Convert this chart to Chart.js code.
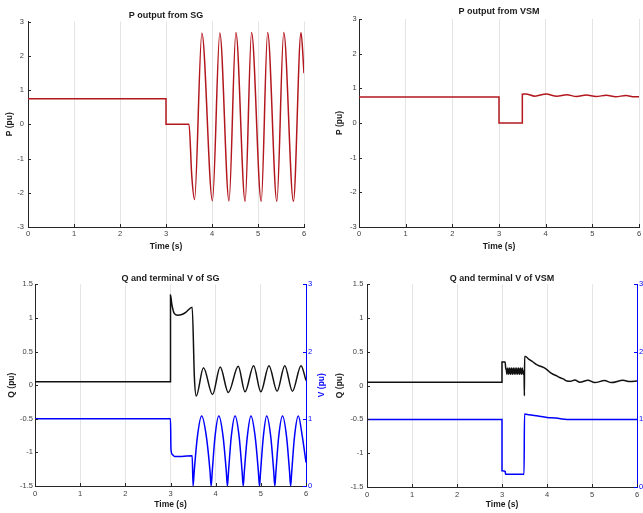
<!DOCTYPE html>
<html>
<head>
<meta charset="utf-8">
<title>SG vs VSM</title>
<script src="https://cdn.jsdelivr.net/npm/chart.js@4.4.1/dist/chart.umd.min.js"></script>
<style>
  html, body { margin: 0; padding: 0; background: #fff; overflow: hidden; }
  #wrap { position: relative; width: 643px; height: 513px; overflow: hidden; }
  canvas { position: absolute; }
</style>
</head>
<body>
<div id="wrap">
  <canvas id="pSG" width="320" height="256" style="left:0px;top:0px"></canvas>
  <canvas id="pVSM" width="340" height="256" style="left:325px;top:0px"></canvas>
  <canvas id="qvSG" width="330" height="257" style="left:0px;top:256px"></canvas>
  <canvas id="qvVSM" width="340" height="257" style="left:330px;top:256px"></canvas>
</div>
<script>
// Marcas de los ejes
const timeTicks = [0, 1, 2, 3, 4, 5, 6];
const pTicks = [-3, -2, -1, 0, 1, 2, 3];
const qTicks = [-1.5, -1, -0.5, 0, 0.5, 1, 1.5];
const vTicks = [0, 1, 2, 3];

// P del generador síncrono (SG): escalón y luego oscilación (picos y valles)
const sgPTime = [0, 3, 3, 3.5, 3.56, 3.62, 3.78, 4.01, 4.17, 4.37, 4.52, 4.72, 4.86, 5.07, 5.21, 5.41, 5.56, 5.77, 5.935, 6];
const sgPValue = [0.75, 0.75, 0, 0, -1.5, -2.2, 2.66, -2.23, 2.67, -2.24, 2.68, -2.25, 2.68, -2.25, 2.68, -2.25, 2.68, -2.25, 2.68, 1.49];

// P de la máquina síncrona virtual (VSM)
const vsmPTime = [0, 3, 3, 3.5, 3.5, 3.57, 3.77, 4.01, 4.24, 4.45, 4.66, 4.87, 5.08, 5.3, 5.5, 5.72, 5.9, 6];
const vsmPValue = [0.75, 0.75, 0, 0, 0.83, 0.84, 0.775, 0.835, 0.77, 0.815, 0.765, 0.805, 0.765, 0.8, 0.76, 0.79, 0.755, 0.755];

// Q del SG
const sgQTime = [0, 3, 3, 3.03, 3.08, 3.15, 3.25, 3.35, 3.48, 3.53, 3.57, 3.73, 3.93, 4.1, 4.28, 4.5, 4.65, 4.84, 5.0, 5.18, 5.36, 5.53, 5.7, 5.89, 6];
const sgQValue = [0.05, 0.05, 1.34, 1.2, 1.07, 1.04, 1.05, 1.09, 1.16, 0.1, -0.16, 0.26, -0.14, 0.27, -0.11, 0.28, -0.1, 0.29, -0.1, 0.29, -0.09, 0.29, -0.09, 0.29, 0.07];

// Tensión en bornes del SG
const sgVTime = [0, 3, 3.01, 3.04, 3.09, 3.25, 3.48, 3.5,
  3.525, 3.595, 3.69, 3.795, 3.875, 3.9,
  3.925, 3.985, 4.07, 4.165, 4.235, 4.26,
  4.285, 4.345, 4.43, 4.52, 4.585, 4.61,
  4.635, 4.7, 4.78, 4.875, 4.945, 4.97,
  4.995, 5.055, 5.13, 5.22, 5.285, 5.31,
  5.335, 5.395, 5.48, 5.57, 5.635, 5.66,
  5.685, 5.745, 5.83, 5.92, 6];
const sgVValue = [1, 1, 0.55, 0.47, 0.44, 0.44, 0.45, 0,
  0.22, 0.73, 1.04, 0.73, 0.22, 0,
  0.22, 0.73, 1.04, 0.73, 0.22, 0,
  0.22, 0.73, 1.04, 0.73, 0.22, 0,
  0.22, 0.73, 1.04, 0.73, 0.22, 0,
  0.22, 0.73, 1.04, 0.73, 0.22, 0,
  0.22, 0.73, 1.04, 0.73, 0.22, 0,
  0.22, 0.73, 1.04, 0.73, 0.35];

// Q de la VSM (con el rizado durante la falta)
const vsmQTime = [0, 3, 3, 3.07, 3.085,
  3.09, 3.11, 3.13, 3.15, 3.17, 3.19, 3.21, 3.23, 3.25, 3.27,
  3.29, 3.31, 3.33, 3.35, 3.37, 3.39, 3.41, 3.43, 3.45, 3.47,
  3.49, 3.497, 3.503, 3.52, 3.6, 3.69, 3.77, 3.84, 3.92, 3.99, 4.1, 4.2, 4.28, 4.36, 4.44,
  4.52, 4.62, 4.73, 4.91, 5.06, 5.28, 5.43, 5.69, 5.84, 6];
const vsmQValue = [0.05, 0.05, 0.35, 0.35, 0.24,
  0.26, 0.17, 0.26, 0.17, 0.26, 0.17, 0.26, 0.17, 0.26, 0.17,
  0.26, 0.17, 0.26, 0.17, 0.26, 0.17, 0.26, 0.17, 0.26, 0.17,
  0.22, -0.15, 0.43, 0.43, 0.39, 0.35, 0.31, 0.29, 0.27, 0.24, 0.18, 0.15, 0.12, 0.1, 0.07,
  0.065, 0.085, 0.05, 0.08, 0.045, 0.075, 0.045, 0.08, 0.06, 0.07];

// Tensión en bornes de la VSM
const vsmVTime = [0, 3, 3, 3.07, 3.08, 3.2, 3.35, 3.49, 3.5, 3.6, 3.8, 4.0, 4.2, 4.45, 5.0, 6];
const vsmVValue = [1, 1, 0.24, 0.23, 0.19, 0.19, 0.19, 0.19, 1.08, 1.07, 1.05, 1.03, 1.02, 1.0, 1.0, 1.0];

const FONT = "'Liberation Sans', Arial, Helvetica, sans-serif";
const AXIS = '#262626';
const RED = '#b3171e';
const BLUE = '#0000ff';

// Marcas hacia dentro y etiqueta del eje derecho leída de abajo a arriba, como en MATLAB
const ejesMatlab = {
  id: 'ejesMatlab',
  afterDraw(chart) {
    const ctx = chart.ctx;
    const area = chart.chartArea;
    Object.values(chart.scales).forEach(scale => {
      ctx.save();
      ctx.strokeStyle = scale.options.border.color;
      ctx.lineWidth = 1;
      ctx.beginPath();
      scale.ticks.forEach(t => {
        const p = Math.round(scale.getPixelForValue(t.value)) + 0.5;
        if (scale.axis === 'x') {
          ctx.moveTo(p, area.bottom); ctx.lineTo(p, area.bottom - 3);
        } else if (scale.position === 'left') {
          ctx.moveTo(area.left, p); ctx.lineTo(area.left + 3, p);
        } else {
          ctx.moveTo(area.right, p); ctx.lineTo(area.right - 3, p);
        }
      });
      ctx.stroke();

      if (scale.axis === 'y' && scale.position === 'right') {
        const tt = scale.options.title;
        ctx.translate(area.right + 15.5, (area.top + area.bottom) / 2);
        ctx.rotate(-Math.PI / 2);
        ctx.fillStyle = scale.options.border.color;
        ctx.font = 'bold 8.5px ' + FONT;
        ctx.textAlign = 'center';
        ctx.textBaseline = 'middle';
        ctx.fillText(tt.text, 0, 0);
      }
      ctx.restore();
    });
  }
};

function toPoints(t, v) {
  return t.map((x, i) => ({ x: x, y: v[i] }));
}

function serie(label, t, v, color, axisId) {
  return {
    label: label,
    data: toPoints(t, v),
    borderColor: color,
    borderWidth: 1.5,
    pointRadius: 0,
    fill: false,
    cubicInterpolationMode: 'monotone',
    yAxisID: axisId || 'y'
  };
}

function xScale(height, tickPad, titlePad) {
  return {
    type: 'linear', min: 0, max: 6,
    afterBuildTicks: s => { s.ticks = timeTicks.map(v => ({ value: v })); },
    afterFit: s => { s.height = height; },
    ticks: { color: '#404040', font: { family: FONT, size: 7.5 }, padding: tickPad, maxRotation: 0,
      callback: v => String(v) },
    grid: { color: '#e4e4e4', drawTicks: false },
    border: { color: AXIS, width: 1 },
    title: { display: true, text: 'Time (s)', color: '#1a1a1a',
      font: { family: FONT, size: 8.5, weight: 'bold' }, padding: { top: 0, bottom: titlePad } }
  };
}

function yScale(o) {
  const derecho = o.position === 'right';
  return {
    type: 'linear', position: o.position, min: o.ticks[0], max: o.ticks[o.ticks.length - 1],
    afterBuildTicks: s => { s.ticks = o.ticks.map(v => ({ value: v })); },
    afterFit: s => { s.width = o.width; },
    ticks: { color: o.color || '#404040', font: { family: FONT, size: 7.5 }, padding: o.tickPad,
      callback: v => String(v) },
    grid: { display: false, drawTicks: false },
    border: { color: o.axisColor || AXIS, width: 1 },
    // el título del eje derecho se pinta en el plugin
    title: { display: !derecho, text: o.title, color: o.axisColor || '#1a1a1a',
      font: { family: FONT, size: 8.5, weight: 'bold' }, padding: { top: o.titlePad || 0, bottom: 0 } }
  };
}

function opciones(title, tTop, tBottom, padRight, scales) {
  return {
    responsive: false,
    animation: false,
    layout: { padding: { left: 0, right: padRight, top: 0, bottom: 0 } },
    plugins: {
      legend: { display: false },
      tooltip: { enabled: false },
      title: { display: true, text: title, fullSize: false, color: '#1a1a1a',
        font: { family: FONT, size: 9, weight: 'bold' }, padding: { top: tTop, bottom: tBottom } }
    },
    scales: scales
  };
}

// P de salida del SG
new Chart(document.getElementById('pSG'), {
  type: 'line',
  data: { datasets: [serie('P', sgPTime, sgPValue, RED)] },
  options: opciones('P output from SG', 10.2, 0.6, 16, {
    x: xScale(29, 2.5, 4.2),
    y: yScale({ position: 'left', ticks: pTicks, width: 28, tickPad: 4, title: 'P (pu)', titlePad: 4.9 })
  }),
  plugins: [ejesMatlab]
});

// P de salida de la VSM
new Chart(document.getElementById('pVSM'), {
  type: 'line',
  data: { datasets: [serie('P', vsmPTime, vsmPValue, RED)] },
  options: opciones('P output from VSM', 6.3, 1.9, 26, {
    x: xScale(29, 2.5, 4.2),
    y: yScale({ position: 'left', ticks: pTicks, width: 34, tickPad: 2.3, title: 'P (pu)', titlePad: 9.9 })
  }),
  plugins: [ejesMatlab]
});

// Q y V del SG (dos ejes verticales)
new Chart(document.getElementById('qvSG'), {
  type: 'line',
  data: { datasets: [
    serie('V', sgVTime, sgVValue, BLUE, 'v'),
    serie('Q', sgQTime, sgQValue, '#111111', 'y')
  ] },
  options: opciones('Q and terminal V of SG', 16.9, 0.6, 0, {
    x: xScale(27, 3.5, 2.9),
    y: yScale({ position: 'left', ticks: qTicks, width: 35, tickPad: 2, title: 'Q (pu)', titlePad: 6.6 }),
    v: yScale({ position: 'right', ticks: vTicks, width: 24, tickPad: 2, title: 'V (pu)',
      color: BLUE, axisColor: BLUE })
  }),
  plugins: [ejesMatlab]
});

// Q y V de la VSM
new Chart(document.getElementById('qvVSM'), {
  type: 'line',
  data: { datasets: [
    serie('V', vsmVTime, vsmVValue, BLUE, 'v'),
    serie('Q', vsmQTime, vsmQValue, '#111111', 'y')
  ] },
  options: opciones('Q and terminal V of VSM', 16.9, 0.6, 0, {
    x: xScale(26, 3.5, 2.9),
    y: yScale({ position: 'left', ticks: qTicks, width: 37, tickPad: 3.7, title: 'Q (pu)', titlePad: 4.9 }),
    v: yScale({ position: 'right', ticks: vTicks, width: 33, tickPad: 2, title: 'V (pu)',
      color: BLUE, axisColor: BLUE })
  }),
  plugins: [ejesMatlab]
});
</script>
</body>
</html>
